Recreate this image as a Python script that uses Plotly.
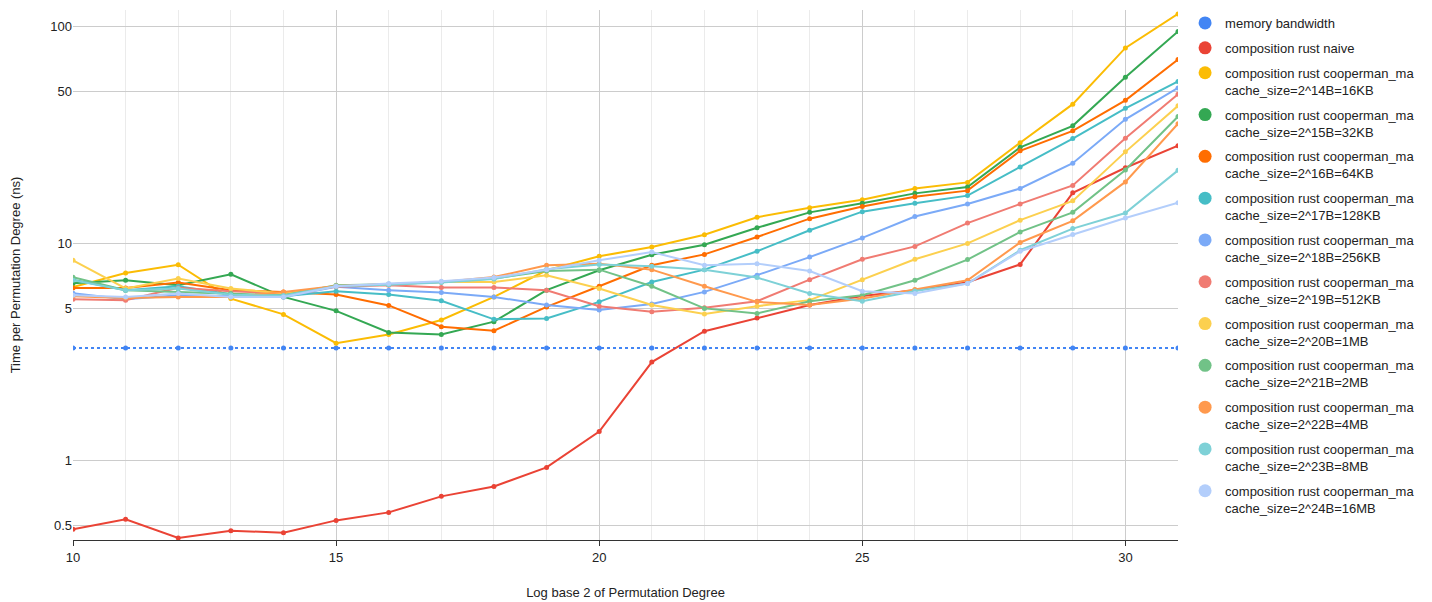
import plotly.graph_objects as go

x_vals = list(range(10, 32))

memory_bandwidth = [3.3] * 22
rust_naive = [0.483, 0.536, 0.44, 0.475, 0.465, 0.53, 0.577, 0.684, 0.76, 0.93, 1.36, 2.84,
              3.94, 4.53, 5.2, 5.72, 6.08, 6.63, 8.0, 17.1, 22.3, 28.2]
c14_16KB = [6.3, 7.31, 7.98, 5.57, 4.71, 3.47, 3.81, 4.44, 5.67, 7.52, 8.72, 9.62,
            10.96, 13.2, 14.6, 15.9, 17.9, 19.1, 29.1, 43.8, 79.5, 114]
c15_32KB = [6.55, 6.77, 6.42, 7.21, 5.67, 4.89, 3.89, 3.81, 4.36, 6.09, 7.52, 8.87,
            9.86, 11.8, 13.9, 15.3, 17.0, 18.2, 27.7, 34.8, 58.3, 94.6]
c16_64KB = [6.24, 6.24, 6.6, 6.09, 5.98, 5.81, 5.18, 4.13, 3.96, 5.10, 6.35, 7.93,
            8.9, 10.7, 13.0, 14.8, 16.4, 17.5, 26.7, 33.0, 45.6, 70.3]
c17_128KB = [6.81, 6.09, 6.35, 5.83, 5.71, 6.02, 5.81, 5.44, 4.47, 4.51, 5.38, 6.64,
             7.57, 9.2, 11.5, 14.0, 15.3, 16.6, 22.5, 30.4, 41.9, 55.7]
c18_256KB = [5.9, 5.53, 5.77, 5.74, 5.67, 6.31, 6.09, 5.94, 5.67, 5.2, 4.93, 5.26,
             5.98, 7.14, 8.65, 10.6, 13.3, 15.2, 17.9, 23.4, 37.3, 52.0]
c19_512KB = [5.53, 5.48, 6.24, 6.02, 5.88, 6.31, 6.42, 6.26, 6.26, 6.09, 5.14, 4.84,
             5.05, 5.42, 6.81, 8.45, 9.69, 12.4, 15.2, 18.5, 30.5, 48.6]
c20_1MB = [8.36, 6.2, 6.89, 6.2, 5.88, 6.37, 6.49, 6.64, 6.64, 7.14, 6.2, 5.2,
           4.73, 5.14, 5.48, 6.81, 8.45, 10.0, 12.8, 15.7, 26.4, 43.0]
c21_2MB = [6.98, 6.09, 5.98, 5.88, 5.77, 6.42, 6.49, 6.64, 6.89, 7.46, 7.57, 6.35,
           5.02, 4.76, 5.42, 5.77, 6.77, 8.42, 11.3, 13.9, 21.8, 38.4]
c22_4MB = [5.71, 5.6, 5.67, 5.67, 5.98, 6.37, 6.49, 6.64, 7.0, 7.93, 8.07, 7.57,
           6.35, 5.38, 5.2, 5.57, 6.13, 6.77, 10.1, 12.7, 19.2, 35.6]
c23_8MB = [6.77, 6.09, 6.2, 5.8, 5.75, 6.35, 6.45, 6.6, 6.85, 7.6, 8.0, 7.84,
           7.57, 6.96, 5.88, 5.42, 6.04, 6.53, 9.3, 11.7, 13.8, 21.7]
c24_16MB = [5.77, 5.67, 5.88, 5.67, 5.67, 6.35, 6.53, 6.69, 6.96, 7.57, 8.36, 9.12,
            7.93, 8.07, 7.46, 6.02, 5.88, 6.53, 9.2, 11.0, 13.1, 15.4]

prefix = "composition rust cooperman_ma<br>"
series = [
    ("memory bandwidth", memory_bandwidth, "#4285F4"),
    ("composition rust naive", rust_naive, "#EA4335"),
    (prefix + "cache_size=2^14B=16KB", c14_16KB, "#FBBC04"),
    (prefix + "cache_size=2^15B=32KB", c15_32KB, "#34A853"),
    (prefix + "cache_size=2^16B=64KB", c16_64KB, "#FF6D01"),
    (prefix + "cache_size=2^17B=128KB", c17_128KB, "#46BDC6"),
    (prefix + "cache_size=2^18B=256KB", c18_256KB, "#7BAAF7"),
    (prefix + "cache_size=2^19B=512KB", c19_512KB, "#F07B72"),
    (prefix + "cache_size=2^20B=1MB", c20_1MB, "#FCD04F"),
    (prefix + "cache_size=2^21B=2MB", c21_2MB, "#71C287"),
    (prefix + "cache_size=2^22B=4MB", c22_4MB, "#FF994D"),
    (prefix + "cache_size=2^23B=8MB", c23_8MB, "#7ED1D7"),
    (prefix + "cache_size=2^24B=16MB", c24_16MB, "#B3CEFB"),
]

fig = go.Figure()
for i, (name, vals, color) in enumerate(series):
    fig.add_trace(go.Scatter(
        x=x_vals, y=vals, mode="lines+markers", name=name,
        line=dict(color=color, width=2, dash="dot" if i == 0 else "solid"),
        marker=dict(color=color, size=5),
        showlegend=False, cliponaxis=True,
    ))
for i, (name, vals, color) in enumerate(series):
    fig.add_trace(go.Scatter(
        x=[None], y=[None], mode="markers", name=name,
        marker=dict(color=color, size=13),
        legendgroup="g%d" % i, showlegend=True,
    ))

fig.update_layout(
    width=1424, height=594,
    margin=dict(l=65, r=254, t=2, b=62, autoexpand=False),
    paper_bgcolor="white", plot_bgcolor="white",
    font=dict(family="Arial, Liberation Sans, sans-serif", size=13, color="#222222"),
    legend=dict(xref="container", yref="container", x=0.8266, y=1.0,
                xanchor="left", yanchor="top", maxheight=1.0, valign="top",
                font=dict(size=13, color="#222222"), tracegroupgap=5,
                itemclick=False),
    showlegend=True,
)
fig.update_xaxes(
    range=[10, 31], tickvals=[10, 15, 20, 25, 30],
    showgrid=True, gridcolor="#cccccc", gridwidth=1,
    minor=dict(dtick=1, showgrid=True, gridcolor="#ebebeb", gridwidth=1),
    showline=True, linecolor="#333333", linewidth=1,
    ticks="outside", ticklen=5, tickcolor="#333333",
    zeroline=False, automargin=False,
    title=dict(text="Log base 2 of Permutation Degree", font=dict(size=13, color="#222222"), standoff=24),
    tickfont=dict(size=13, color="#222222"),
)
fig.update_yaxes(
    type="log", range=[-0.366, 2.075],
    tickvals=[0.5, 1, 5, 10, 50, 100], ticktext=["0.5", "1", "5", "10", "50", "100"],
    showgrid=True, gridcolor="#cccccc", gridwidth=1,
    showline=False, zeroline=False, ticks="", automargin=False,
    title=dict(text="Time per Permutation Degree (ns)", font=dict(size=13, color="#222222"), standoff=31),
    tickfont=dict(size=13, color="#222222"),
)

fig.write_html("out.html")
